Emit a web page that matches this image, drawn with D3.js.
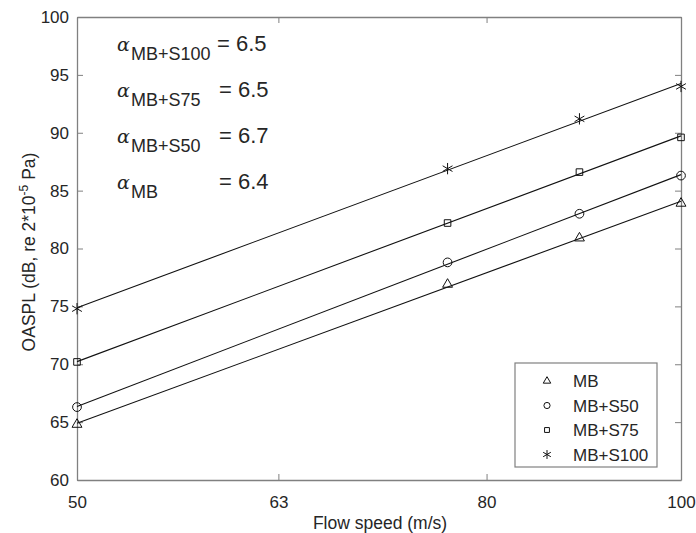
<!DOCTYPE html>
<html>
<head>
<meta charset="utf-8">
<script src="https://cdn.jsdelivr.net/npm/d3@7"></script>
<style>
  body { margin: 0; background: #fff; }
  svg text { font-family: "Liberation Sans", Arial, sans-serif; fill: #262626; }
</style>
</head>
<body>
<script>
// donnees
const vitesses = [50, 76.5, 89, 100];
const series = ["MB", "MB+S50", "MB+S75", "MB+S100"];
const valeursMB = [64.8, 76.9, 80.9, 83.9];
const valeursS50 = [66.3, 78.8, 83.0, 86.3];
const valeursS75 = [70.2, 82.2, 86.6, 89.6];
const valeursS100 = [74.8, 86.9, 91.2, 94.0];
const alphas = [["MB+S100", "6.5"], ["MB+S75", "6.5"], ["MB+S50", "6.7"], ["MB", "6.4"]];
const ticksX = [50, 63, 80, 100];
const ticksY = [60, 65, 70, 75, 80, 85, 90, 95, 100];

const valeurs = [valeursMB, valeursS50, valeursS75, valeursS100];
const symboles = [d3.symbolTriangle2, d3.symbolCircle, d3.symbolSquare2, d3.symbolAsterisk];
const tailles = [70, 60, 55, 90];
const taillesLeg = [40, 30, 30, 55];

const largeur = 696, hauteur = 533;
const marges = { top: 17, right: 15, bottom: 53, left: 77 };

let svg = d3.select("body").append("svg")
    .attr("width", largeur)
    .attr("height", hauteur);

let echelleX = d3.scaleLog()
    .domain([50, 100])
    .range([marges.left, largeur - marges.right]);

let echelleY = d3.scaleLinear()
    .domain([60, 100])
    .range([hauteur - marges.bottom, marges.top]);

const gris = "#808080";

// axes (ticks vers l'interieur, comme matlab)
function styleAxe(g) {
    g.selectAll(".domain").attr("stroke", gris).attr("stroke-width", 1.3);
    g.selectAll(".tick line").attr("stroke", gris);
    g.selectAll(".tick text").attr("font-size", 17);
}

svg.append("g")
    .attr("transform", "translate(0," + echelleY(60) + ")")
    .call(d3.axisBottom(echelleX).tickValues(ticksX).tickFormat(d => d)
        .tickSizeInner(-6).tickSizeOuter(0).tickPadding(16))
    .call(styleAxe);

svg.append("g")
    .attr("transform", "translate(0," + echelleY(100) + ")")
    .call(d3.axisTop(echelleX).tickValues(ticksX).tickFormat("")
        .tickSizeInner(-6).tickSizeOuter(0))
    .call(styleAxe);

svg.append("g")
    .attr("transform", "translate(" + echelleX(50) + ",0)")
    .call(d3.axisLeft(echelleY).tickValues(ticksY).tickFormat(d => d)
        .tickSizeInner(-6).tickSizeOuter(0).tickPadding(8))
    .call(styleAxe);

svg.append("g")
    .attr("transform", "translate(" + echelleX(100) + ",0)")
    .call(d3.axisRight(echelleY).tickValues(ticksY).tickFormat("")
        .tickSizeInner(-6).tickSizeOuter(0))
    .call(styleAxe);

// droites de regression en log(U)
function regression(ys) {
    let xs = vitesses.map(v => Math.log10(v));
    let mx = d3.mean(xs), my = d3.mean(ys);
    let num = d3.sum(xs, (x, i) => (x - mx) * (ys[i] - my));
    let den = d3.sum(xs, x => (x - mx) * (x - mx));
    let b = num / den;
    let a = my - b * mx;
    return v => a + b * Math.log10(v);
}

let courbes = svg.append("g");
valeurs.forEach(function(ys, k) {
    let f = regression(ys);
    courbes.append("line")
        .attr("x1", echelleX(50)).attr("y1", echelleY(f(50)))
        .attr("x2", echelleX(100)).attr("y2", echelleY(f(100)))
        .attr("stroke", "#111").attr("stroke-width", 1.1);

    courbes.selectAll(".pt" + k).data(ys).enter()
        .append("path")
        .attr("class", "pt" + k)
        .attr("d", d3.symbol().type(symboles[k]).size(tailles[k]))
        .attr("transform", (d, i) => "translate(" + echelleX(vitesses[i]) + "," + echelleY(d) + ")")
        .attr("fill", "none")
        .attr("stroke", "#111")
        .attr("stroke-width", 1);
});

// annotations alpha
let annot = svg.append("g");
alphas.forEach(function(a, i) {
    let y = 51 + i * 46;
    annot.append("text")
        .attr("x", 117).attr("y", y)
        .style("font-family", "'DejaVu Serif', serif")
        .style("font-style", "italic")
        .attr("font-size", 19)
        .text("\u03B1");
    annot.append("text")
        .attr("x", 131).attr("y", y + 9)
        .attr("font-size", 18)
        .text(a[0]);
    annot.append("text")
        .attr("x", i == 0 ? 217 : 219).attr("y", y)
        .attr("font-size", 22)
        .text("= " + a[1]);
});

// libelles des axes
svg.append("text")
    .attr("x", 380)
    .attr("y", 529)
    .attr("text-anchor", "middle")
    .attr("font-size", 17.5)
    .text("Flow speed (m/s)");

let labelY = svg.append("text")
    .attr("transform", "translate(35,252) rotate(-90)")
    .attr("text-anchor", "middle")
    .attr("font-size", 17.5);
labelY.append("tspan").text("OASPL (dB, re 2*10");
labelY.append("tspan").attr("dy", -7).attr("font-size", 12).text("-5");
labelY.append("tspan").attr("dy", 7).text(" Pa)");

// legende
let legende = svg.append("g").attr("transform", "translate(515,363)");
legende.append("rect")
    .attr("width", 142).attr("height", 104)
    .attr("fill", "#fff").attr("stroke", gris).attr("stroke-width", 1.2);

series.forEach(function(s, i) {
    let y = 18 + i * 24.5;
    legende.append("path")
        .attr("d", d3.symbol().type(symboles[i]).size(taillesLeg[i]))
        .attr("transform", "translate(32," + y + ")")
        .attr("fill", "none").attr("stroke", "#111").attr("stroke-width", 1);
    legende.append("text")
        .attr("x", 58).attr("y", y + 6)
        .attr("font-size", 17)
        .text(s);
});
</script>
</body>
</html>
